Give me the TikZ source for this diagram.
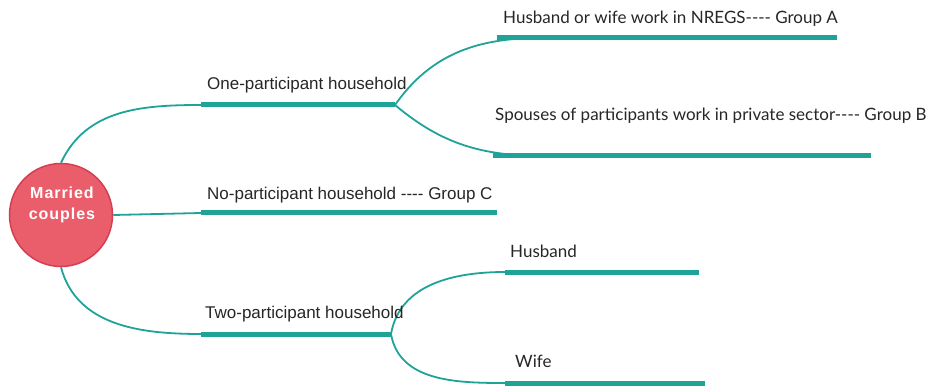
\documentclass[tikz,border=0pt]{standalone}
\usepackage{fontspec}
\setmainfont{Liberation Sans}
\newfontfamily\latofont{Lato}
\newfontfamily\centrefont{Liberation Sans}[LetterSpace=6]

\definecolor{mapteal}{RGB}{31,163,152}
\definecolor{couplered}{RGB}{234,94,107}
\definecolor{coupleedge}{RGB}{211,62,80}
\definecolor{txtgray}{RGB}{38,38,38}

\begin{document}
\begin{tikzpicture}[x=1pt,y=-1pt,
    bar/.style={line width=5pt,mapteal},
    branch/.style={line width=1.8pt,mapteal},
    topic/.style={anchor=base west,inner sep=0pt,text=txtgray,font=\fontsize{17}{19}\selectfont},
    subtopic/.style={anchor=base west,inner sep=0pt,text=txtgray,font=\latofont\fontsize{17}{19}\selectfont}]
        \useasboundingbox (0,0) rectangle (934,390);
        % centre
        \node[shape=circle,fill=couplered,draw=coupleedge,line width=1.5pt,minimum size=103pt,inner sep=0pt](mc) at (61,215) {};
        \node[text=white,align=center,font=\centrefont\bfseries\fontsize{16}{21}\selectfont](mctext) at (62,205) {Married\\couples};
        % bars
        \coordinate (oneL) at (201,105);
        \coordinate (oneR) at (395,105);
        \coordinate (noL) at (201,213);
        \coordinate (noR) at (497,213);
        \coordinate (twoL) at (201,334);
        \coordinate (twoR) at (391,334);
        \coordinate (aL) at (497,38);
        \coordinate (aR) at (837,38);
        \coordinate (aIn) at (540,38);
        \coordinate (bL) at (493,156);
        \coordinate (bR) at (871,156);
        \coordinate (bIn) at (545,156);
        \coordinate (husL) at (505,272);
        \coordinate (husR) at (699,272);
        \coordinate (wifeL) at (505,383);
        \coordinate (wifeR) at (705,383);
        \draw[bar] (oneL) -- (oneR);
        \draw[bar] (noL) -- (noR);
        \draw[bar] (twoL) -- (twoR);
        \draw[bar] (aL) -- (aR);
        \draw[bar] (bL) -- (bR);
        \draw[bar] (husL) -- (husR);
        \draw[bar] (wifeL) -- (wifeR);
        % branches
        \path (mc.north) edge[branch,out=65,in=180] (oneL);
        \path (mc.east) edge[branch] (noL);
        \path (mc.south) edge[branch,out=-75,in=180] (twoL);
        \path (oneR) edge[branch,out=55,in=180] (aIn);
        \path (oneR) edge[branch,out=-40,in=180] (bIn);
        \path (twoR) edge[branch,out=80,in=180] (husL);
        \path (twoR) edge[branch,out=-80,in=180] (wifeL);
        % labels
        \node[topic] (one) at (207,90) {One-participant household};
        \node[topic] (no) at (207,200) {No-participant household -{}-{}-{}- Group C};
        \node[topic] (two) at (205,318) {Two-participant household};
        \node[subtopic] (ga) at (503,24) {Husband or wife work in NREGS---- Group A};
        \node[subtopic] (gb) at (495,121) {Spouses of participants work in private sector---- Group B};
        \node[subtopic] (hus) at (510,257) {Husband};
        \node[subtopic] (wife) at (515,367) {Wife};
    \end{tikzpicture}
\end{document}
